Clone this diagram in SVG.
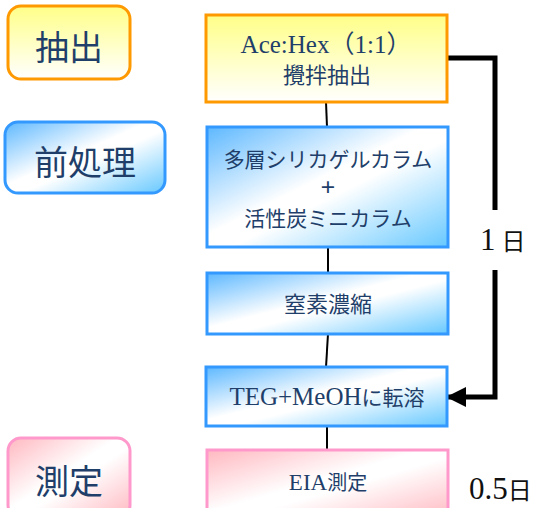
<svg xmlns="http://www.w3.org/2000/svg" width="537" height="508" viewBox="0 0 537 508">
<defs>
<linearGradient id="gy" x1="0" y1="0" x2="0" y2="1">
<stop offset="0" stop-color="#FFFF88"/>
<stop offset="1" stop-color="#FFFFFF"/>
</linearGradient>
<linearGradient id="gb" x1="0" y1="0" x2="1" y2="1">
<stop offset="0" stop-color="#5DB8FF"/>
<stop offset="0.45" stop-color="#FFFFFF"/>
<stop offset="0.55" stop-color="#FFFFFF"/>
<stop offset="1" stop-color="#66C8FF"/>
</linearGradient>
<linearGradient id="gp" x1="0" y1="0" x2="1" y2="1">
<stop offset="0" stop-color="#FFB8C0"/>
<stop offset="0.45" stop-color="#FFFFFF"/>
<stop offset="0.55" stop-color="#FFFFFF"/>
<stop offset="1" stop-color="#FFB8C0"/>
</linearGradient>
<marker id="arr" viewBox="0 0 10 10" refX="9" refY="5" markerWidth="4" markerHeight="4" markerUnits="strokeWidth" orient="auto">
<path d="M0,0 L10,5 L0,10 z" fill="#000"/>
</marker>
<style>
.t{font-family:"Liberation Serif","Noto Sans CJK JP",serif;fill:#1F3F6A;text-anchor:middle}
.m{font-size:21px}
.l{font-size:34px}
.lat{font-size:25px}
.d{font-family:"Liberation Serif","Noto Sans CJK JP",serif;fill:#111;font-size:24px}
.dn{font-size:31px}
.yo{fill:url(#gy);stroke:#FF9900;stroke-width:3}
.bl{fill:url(#gb);stroke:#3399FF;stroke-width:3}
.pk{fill:url(#gp);stroke:#FF99CC;stroke-width:3}
.c{stroke:#000;stroke-width:2;fill:none}
</style>
</defs>
<g id="connectors">
<line class="c" x1="326" y1="102" x2="327" y2="127"/>
<line class="c" x1="328" y1="247" x2="328" y2="273"/>
<line class="c" x1="328" y1="334" x2="326" y2="367"/>
<line class="c" x1="327" y1="426" x2="327" y2="450"/>
<path d="M447,58 H495 V210" stroke="#000" stroke-width="5" fill="none"/>
<path d="M495,270 V397 H448" stroke="#000" stroke-width="5" fill="none" marker-end="url(#arr)"/>
</g>
<g id="label-extract">
<rect class="yo" x="8" y="6" width="122" height="73" rx="13"/>
<text class="t l" x="69" y="60">抽出</text>
</g>
<g id="label-pre">
<rect class="bl" x="5" y="122" width="160" height="71" rx="13"/>
<text class="t l" x="85" y="175">前処理</text>
</g>
<g id="label-measure">
<rect class="pk" x="8" y="438" width="122" height="80" rx="13"/>
<text class="t l" x="69" y="494">測定</text>
</g>
<g id="n-extract">
<rect class="yo" x="206" y="15" width="241" height="87"/>
<text class="t m" x="326" y="53"><tspan class="lat">Ace:Hex（1:1）</tspan></text>
<text class="t m" x="327" y="83" style="font-size:22px">攪拌抽出</text>
</g>
<g id="n-column">
<rect class="bl" x="207" y="127" width="241" height="120"/>
<text class="t m" x="328" y="167">多層シリカゲルカラム</text>
<text class="t m" x="328" y="196" style="font-size:26px;font-weight:bold">+</text>
<text class="t m" x="328" y="226">活性炭ミニカラム</text>
</g>
<g id="n-n2">
<rect class="bl" x="207" y="273" width="241" height="61"/>
<text class="t m" x="328" y="312" style="font-size:22px">窒素濃縮</text>
</g>
<g id="n-teg">
<rect class="bl" x="206" y="367" width="241" height="59"/>
<text class="t m" x="327" y="405"><tspan class="lat">TEG+MeOH</tspan>に転溶</text>
</g>
<g id="n-eia">
<rect class="pk" x="207" y="450" width="241" height="70"/>
<text class="t m" x="328" y="490" style="font-size:20px"><tspan style="font-size:23px">EIA</tspan>測定</text>
</g>
<g id="durations">
<text class="d" x="480" y="250"><tspan class="dn">1</tspan> 日</text>
<text class="d" x="469" y="499"><tspan class="dn">0.5</tspan>日</text>
</g>
</svg>
